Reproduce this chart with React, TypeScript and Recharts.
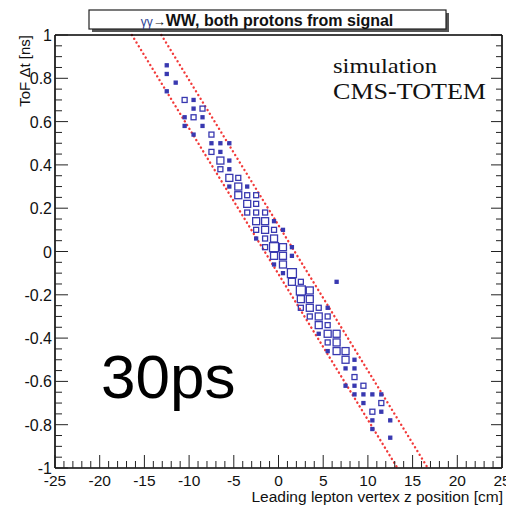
import React from 'react';
import { ScatterChart, Scatter, XAxis, YAxis, ReferenceLine } from 'recharts';

// 50x50 histogram, bin centres (z in cm, dt in ns)
const zBins = [
  -12.5, -12.5, -11.5, -12.5, -10.5, -9.5, -9.5, -8.5, -10.5, -9.5,
  -8.5, -10.5, -8.5, -9.5, -7.5, -7.5, -6.5, -5.5, -7.5, -6.5,
  -6.5, -5.5, -6.5, -5.5, -5.5, -4.5, -5.5, -4.5, -3.5, -4.5,
  -3.5, -2.5, -3.5, -2.5, -3.5, -2.5, -1.5, -2.5, -1.5, -0.5,
  -2.5, -1.5, -0.5, 0.5, -2.5, -1.5, -0.5, -1.5, -0.5, 0.5,
  1.5, -0.5, 0.5, 1.5, -0.5, 0.5, 0.5, 1.5, 1.5, 2.5,
  2.5, 3.5, 2.5, 3.5, 2.5, 3.5, 4.5, 5.5, 3.5, 4.5,
  5.5, 4.5, 5.5, 4.5, 5.5, 6.5, 5.5, 6.5, 5.5, 6.5,
  7.5, 7.5, 8.5, 7.5, 8.5, 8.5, 7.5, 8.5, 9.5, 8.5,
  9.5, 10.5, 11.5, 9.5, 11.5, 10.5, 11.5, 10.5, 12.5, 10.5,
  12.5, 6.5,
];
const dtBins = [
  0.86, 0.82, 0.78, 0.74, 0.70, 0.70, 0.66, 0.66, 0.62, 0.62,
  0.62, 0.58, 0.58, 0.54, 0.54, 0.50, 0.50, 0.50, 0.46, 0.46,
  0.42, 0.42, 0.38, 0.38, 0.34, 0.34, 0.30, 0.30, 0.30, 0.26,
  0.26, 0.26, 0.22, 0.22, 0.18, 0.18, 0.18, 0.14, 0.14, 0.14,
  0.10, 0.10, 0.10, 0.10, 0.06, 0.06, 0.06, 0.02, 0.02, 0.02,
  0.02, -0.02, -0.02, -0.02, -0.06, -0.06, -0.10, -0.10, -0.14, -0.14,
  -0.18, -0.18, -0.22, -0.22, -0.26, -0.26, -0.26, -0.26, -0.30, -0.30,
  -0.30, -0.34, -0.34, -0.38, -0.38, -0.38, -0.42, -0.42, -0.46, -0.46,
  -0.46, -0.50, -0.50, -0.54, -0.54, -0.58, -0.62, -0.62, -0.62, -0.66,
  -0.66, -0.66, -0.66, -0.70, -0.70, -0.74, -0.74, -0.78, -0.78, -0.82,
  -0.86, -0.14,
];
const counts = [
  1, 1, 1, 1, 2, 1, 1, 2, 1, 2,
  1, 1, 1, 1, 2, 1, 1, 1, 2, 1,
  3, 1, 2, 1, 3, 2, 1, 3, 1, 3,
  2, 2, 3, 2, 2, 2, 2, 3, 3, 1,
  2, 3, 2, 1, 1, 2, 3, 2, 4, 3,
  1, 3, 3, 1, 1, 3, 1, 4, 3, 2,
  4, 3, 3, 3, 2, 3, 2, 1, 2, 3,
  2, 3, 2, 1, 3, 3, 2, 3, 1, 3,
  3, 3, 1, 1, 1, 2, 1, 1, 2, 1,
  1, 1, 1, 1, 2, 2, 1, 1, 1, 1,
  1, 1,
];

// dotted cut band
const bandLow = [{ x: -16.4, y: 1 }, { x: 13.3, y: -1 }];
const bandHigh = [{ x: -13.1, y: 1 }, { x: 16.7, y: -1 }];

const zMajor = [-25, -20, -15, -10, -5, 0, 5, 10, 15, 20, 25];
const dtMajor = [-1, -0.8, -0.6, -0.4, -0.2, 0, 0.2, 0.4, 0.6, 0.8, 1];

// minor ticks: 1 cm / 0.05 ns
const zTicks = Array.from({ length: 51 }, (_, i) => i - 25);
const dtTicks = Array.from({ length: 41 }, (_, i) => Math.round((-1 + i * 0.05) * 100) / 100);

const BLUE = '#3838b0';
const RED = '#f23a3a';
const FONT = '"Liberation Sans", Arial, sans-serif';
const SERIF = '"Liberation Serif", "Times New Roman", serif';

const bins = zBins.map((z, i) => ({ z, dt: dtBins[i], n: counts[i] }));

const isMajorZ = (v: number) => zMajor.includes(v);
const isMajorDt = (v: number) => dtMajor.some(m => Math.abs(m - v) < 1e-6);

const BinBox = (props: any) => {
  const { cx, cy, payload } = props;
  const side = 1 + 2 * payload.n;
  return (
    <rect
      x={cx - side / 2} y={cy - side / 2} width={side} height={side}
      fill={payload.n === 1 ? BLUE : 'none'} stroke={BLUE} strokeWidth={1.3}
    />
  );
};

const BottomTick = ({ x, y, payload }: any) => {
  const major = isMajorZ(payload.value);
  return (
    <g>
      <line x1={x} x2={x} y1={y} y2={y - (major ? 13 : 7)} stroke="#222" />
      {major && (
        <text x={x} y={y + 18} textAnchor="middle" fontSize={15.5} fontFamily={FONT} fill="#111">
          {payload.value}
        </text>
      )}
    </g>
  );
};

const TopTick = ({ x, y, payload }: any) => {
  const major = isMajorZ(payload.value);
  return <line x1={x} x2={x} y1={y} y2={y + (major ? 11 : 6)} stroke="#222" />;
};

const LeftTick = ({ x, y, payload }: any) => {
  const major = isMajorDt(payload.value);
  return (
    <g>
      <line x1={x} x2={x + (major ? 13 : 7)} y1={y} y2={y} stroke="#222" />
      {major && (
        <text x={x - 3} y={y + 6} textAnchor="end" fontSize={16} fontFamily={FONT} fill="#111">
          {payload.value}
        </text>
      )}
    </g>
  );
};

const RightTick = ({ x, y, payload }: any) => {
  const major = isMajorDt(payload.value);
  return <line x1={x} x2={x - (major ? 11 : 6)} y1={y} y2={y} stroke="#222" />;
};

export default function App() {
  return (
    <div style={{ position: 'absolute', left: 0, top: 0, width: 506, height: 506, background: '#fff' }}>
      <ScatterChart width={506} height={506} margin={{ top: 34, right: 3, bottom: 8, left: 5 }}>
        <XAxis
          dataKey="z" type="number" domain={[-25, 25]} ticks={zTicks} interval={0}
          height={30} tickSize={0} tickMargin={0} tick={<BottomTick />}
          axisLine={{ stroke: '#000', strokeWidth: 1.6 }} tickLine={false} allowDataOverflow
        />
        <XAxis
          xAxisId="top" orientation="top" type="number" domain={[-25, 25]} ticks={zTicks} interval={0}
          height={1} tickSize={0} tickMargin={0} tick={<TopTick />}
          axisLine={{ stroke: '#000', strokeWidth: 1.6 }} tickLine={false} allowDataOverflow
        />
        <YAxis
          dataKey="dt" type="number" domain={[-1, 1]} ticks={dtTicks} interval={0}
          width={50} tickSize={0} tickMargin={0} tick={<LeftTick />}
          axisLine={{ stroke: '#000', strokeWidth: 1.6 }} tickLine={false} allowDataOverflow
        />
        <YAxis
          yAxisId="right" orientation="right" type="number" domain={[-1, 1]} ticks={dtTicks} interval={0}
          width={1} tickSize={0} tickMargin={0} tick={<RightTick />}
          axisLine={{ stroke: '#000', strokeWidth: 1.6 }} tickLine={false} allowDataOverflow
        />
        <ReferenceLine
          segment={bandLow} stroke={RED} strokeWidth={2.4}
          strokeDasharray="0.1 4.3" strokeLinecap="round"
        />
        <ReferenceLine
          segment={bandHigh} stroke={RED} strokeWidth={2.4}
          strokeDasharray="0.1 4.3" strokeLinecap="round"
        />
        <Scatter data={bins} shape={<BinBox />} isAnimationActive={false} />
      </ScatterChart>

      <svg width={506} height={506} style={{ position: 'absolute', left: 0, top: 0, pointerEvents: 'none' }}>
        {/* ROOT style title pave with shadow */}
        <rect x={92} y={13} width={357} height={19} fill="#555" />
        <rect x={89} y={10} width={357} height={19} fill="#fff" stroke="#222" strokeWidth={1.2} />
        <text x={267} y={25.5} textAnchor="middle" fontFamily={FONT} fontSize={16} fontWeight="bold" fill="#111">
          <tspan fontSize={12} fontWeight="normal" fill="#2a3a90">γγ</tspan>
          <tspan fontSize={13} fontWeight="normal">→</tspan>
          WW, both protons from signal
        </text>

        <text x={333} y={73} fontFamily={SERIF} fontSize={22} fill="#111" textLength={104} lengthAdjust="spacingAndGlyphs">
          simulation
        </text>
        <text x={333} y={99} fontFamily={SERIF} fontSize={23} fill="#111" textLength={153} lengthAdjust="spacingAndGlyphs">
          CMS-TOTEM
        </text>

        <text x={101} y={398} fontFamily={FONT} fontSize={62} fill="#000">30ps</text>

        <text
          x={30} y={35} transform="rotate(-90 30 35)" textAnchor="end"
          fontFamily={FONT} fontSize={15} fill="#111"
        >
          ToF Δt [ns]
        </text>
        <text x={503} y={502} textAnchor="end" fontFamily={FONT} fontSize={15.5} fill="#111">
          Leading lepton vertex z position [cm]
        </text>
      </svg>
    </div>
  );
}
